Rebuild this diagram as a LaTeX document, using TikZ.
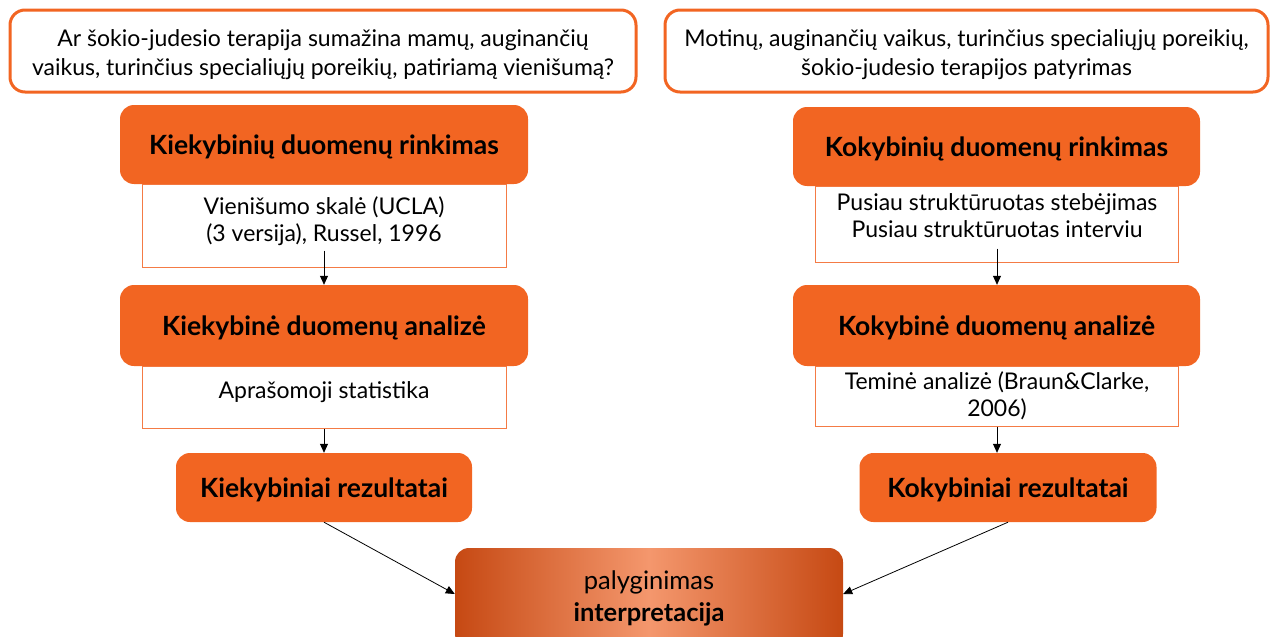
\documentclass[tikz,border=0pt]{standalone}
\usepackage{fontspec}
\setmainfont{Lato}
\usetikzlibrary{arrows.meta}
\definecolor{orng}{HTML}{F26522}
\definecolor{orngline}{HTML}{F47B45}
\definecolor{orngdark}{HTML}{C64913}
\definecolor{ornglight}{HTML}{F4976D}

\begin{document}
\begin{tikzpicture}[
    x=1pt, y=-1pt,
    question/.style={draw=orng, line width=3pt, rounded corners=15pt, fill=white,
                     align=center, inner sep=0pt, text height=54pt,
                     font=\fontsize{23}{29}\selectfont},
    stage/.style={fill=orng, rounded corners=14pt, align=center, inner sep=0pt,
                  text height=25pt, font=\fontsize{26.5}{30}\selectfont\bfseries},
    method/.style={draw=orngline, line width=1pt, fill=white, align=center,
                   inner sep=0pt, font=\fontsize{23}{27}\selectfont},
    final/.style={rounded corners=14pt, left color=orngdark, right color=orngdark,
                  middle color=ornglight, align=center, inner sep=0pt,
                  font=\fontsize{25.5}{32}\selectfont},
    arrow/.style={-{Triangle[length=9pt,width=8pt]}, line width=0.8pt}
]
    \clip (0,0) rectangle (1270,637);

    % Questions
    \node[question, minimum width=626pt, minimum height=82pt] (qleft) at (323,51)
        {Ar šokio-judesio terapija sumažina mamų, auginančių\\vaikus, turinčius specialiųjų poreikių, patiriamą vienišumą?};
    \node[question, minimum width=603pt, minimum height=82pt] (qright) at (966.5,51)
        {Motinų, auginančių vaikus, turinčius specialiųjų poreikių,\\šokio-judesio terapijos patyrimas};

    % Quantitative branch
    \node[method, minimum width=364pt, minimum height=83pt, text depth=12pt] (kmeth) at (324,225.5)
        {Vienišumo skalė (UCLA)\\(3 versija), Russel, 1996};
    \node[stage, minimum width=408pt, minimum height=79pt] (kcollect) at (324,144.5) {Kiekybinių duomenų rinkimas};
    \node[method, minimum width=364pt, minimum height=62pt, text depth=14pt] (kanmeth) at (324,397) {Aprašomoji statistika};
    \node[stage, minimum width=408pt, minimum height=81pt] (kanal) at (324,325.5) {Kiekybinė duomenų analizė};
    \node[stage, minimum width=296pt, minimum height=69pt] (kres) at (324,487.5) {Kiekybiniai rezultatai};

    % Qualitative branch
    \node[method, minimum width=363pt, minimum height=76pt, text depth=16pt] (qmeth) at (997,224)
        {Pusiau struktūruotas stebėjimas\\Pusiau struktūruotas interviu};
    \node[stage, minimum width=407pt, minimum height=79pt] (qcollect) at (996.5,146.5) {Kokybinių duomenų rinkimas};
    \node[method, minimum width=363pt, minimum height=60pt] (qanmeth) at (997,396)
        {Teminė analizė (Braun\&Clarke,\\2006)};
    \node[stage, minimum width=407pt, minimum height=81pt] (qanal) at (996.5,325.5) {Kokybinė duomenų analizė};
    \node[stage, minimum width=297pt, minimum height=69pt] (qres) at (1008,487.5) {Kokybiniai rezultatai};

    % Comparison
    \node[final, minimum width=388pt, minimum height=100pt] (compare) at (649,598)
        {palyginimas\\\textbf{interpretacija}};

    % Arrows
    \draw[arrow] ([yshift=17pt]kmeth.south) -- (kanal.north);
    \draw[arrow] (kanmeth.south) -- (kres.north);
    \draw[arrow] ([yshift=14pt]qmeth.south) -- (qanal.north -| qmeth.south);
    \draw[arrow] (qanmeth.south) -- (qres.north -| qanmeth.south);
    \draw[arrow] (kres.south) -- ([yshift=4pt]compare.west);
    \draw[arrow] (qres.south) -- ([yshift=4pt]compare.east);
\end{tikzpicture}
\end{document}
